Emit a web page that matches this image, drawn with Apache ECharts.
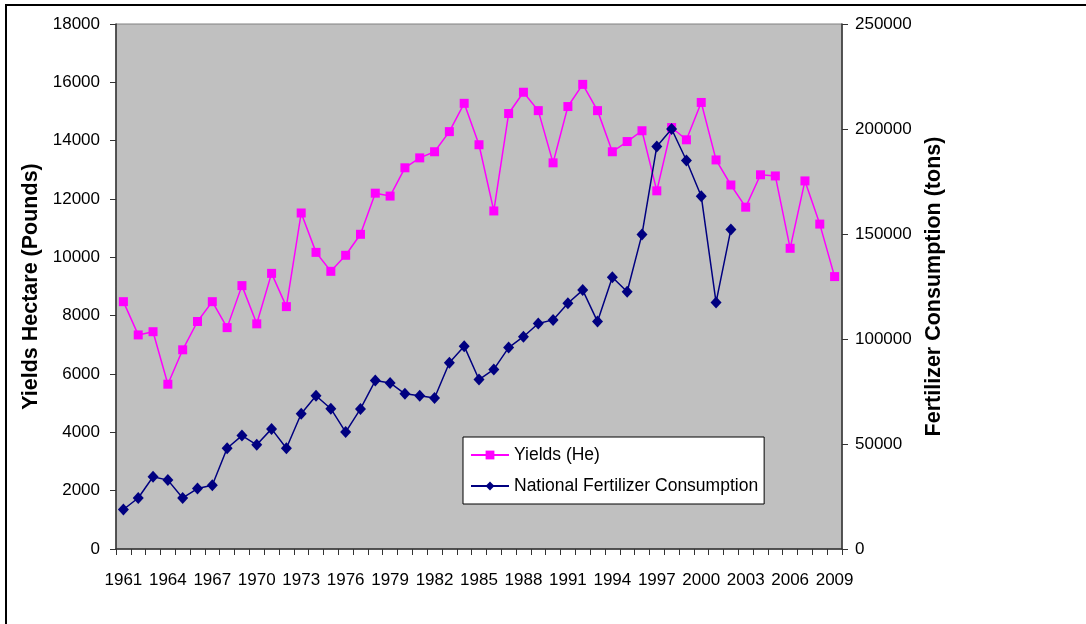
<!DOCTYPE html>
<html><head><meta charset="utf-8">
<script src="https://cdn.jsdelivr.net/npm/echarts@6/dist/echarts.min.js"></script>
<style>html,body{margin:0;padding:0;background:#fff;}#c{width:1086px;height:624px;}</style>
</head><body><div id="c"></div>
<script>
var years = ['1961','1962','1963','1964','1965','1966','1967','1968','1969','1970',
'1971','1972','1973','1974','1975','1976','1977','1978','1979','1980',
'1981','1982','1983','1984','1985','1986','1987','1988','1989','1990',
'1991','1992','1993','1994','1995','1996','1997','1998','1999','2000',
'2001','2002','2003','2004','2005','2006','2007','2008','2009'];
var yields = [8480,7340,7450,5650,6830,7800,8480,7590,9030,7720,
9450,8310,11520,10170,9520,10070,10790,12200,12100,13070,
13410,13620,14310,15280,13860,11590,14930,15660,15030,13240,
15170,15930,15030,13620,13970,14340,12280,14450,14030,15310,
13340,12480,11720,12830,12790,10310,12620,11140,9340];
var fertilizer = [18800,24300,34400,32800,24300,28800,30400,48000,54000,49600,
57200,48000,64400,73000,66800,55700,66700,80200,79100,73900,
73000,71900,88700,96600,80700,85500,95900,101100,107400,109100,
117000,123300,108300,129400,122500,149800,191700,200000,185000,168000,
117400,152200,null,null,null,null,null,null,null];
var seriesNames = ['Yields (He)','National Fertilizer Consumption'];
var leftAxisTitle = 'Yields Hectare (Pounds)';
var rightAxisTitle = 'Fertilizer Consumption (tons)';

var NF = '"Liberation Sans", Arial, sans-serif';
var tickSize = 17;
var legSize = 17.5;

var chart = echarts.init(document.getElementById('c'));
var axisLineStyle = {color:'#333333', width:1.5};
function plain(v){ return String(v); }
chart.setOption({
  animation:false,
  backgroundColor:'#ffffff',
  graphic:[{type:'rect', shape:{x:6,y:5,width:1200,height:700}, style:{fill:'none', stroke:'#000', lineWidth:2}, silent:true}],
  grid:{left:116, top:24, right:244, bottom:75, show:true, backgroundColor:'#C0C0C0', borderColor:'#808080', borderWidth:1},
  legend:{
    orient:'vertical', left:463, top:437,
    backgroundColor:'#ffffff', borderColor:'#000', borderWidth:1,
    padding:[9,6,9,7], itemGap:13, itemWidth:38, itemHeight:11,
    textStyle:{fontFamily:NF, fontSize:legSize, color:'#000'},
    data:seriesNames
  },
  xAxis:{
    type:'category', data:years, boundaryGap:true,
    axisLine:{lineStyle:axisLineStyle},
    axisTick:{show:true, interval:0, length:6, lineStyle:{color:'#333'}},
    axisLabel:{interval:2, margin:23, fontFamily:NF, fontSize:tickSize, color:'#000'},
    splitLine:{show:false}
  },
  yAxis:[{
    type:'value', min:0, max:18000, interval:2000,
    name:leftAxisTitle, nameLocation:'middle', nameGap:60,
    nameTextStyle:{fontFamily:NF, fontWeight:'bold', fontSize:21.5, color:'#000'},
    axisLine:{show:true, lineStyle:axisLineStyle},
    axisTick:{show:true, length:6, lineStyle:{color:'#333'}},
    axisLabel:{margin:16, fontFamily:NF, fontSize:tickSize, color:'#000', formatter:plain},
    splitLine:{show:false}
  },{
    type:'value', min:0, max:250000, interval:50000, position:'right',
    name:rightAxisTitle, nameLocation:'middle', nameGap:75, nameRotate:90,
    nameTextStyle:{fontFamily:NF, fontWeight:'bold', fontSize:21.5, color:'#000'},
    axisLine:{show:true, lineStyle:axisLineStyle},
    axisTick:{show:true, length:6, lineStyle:{color:'#333'}},
    axisLabel:{margin:13, fontFamily:NF, fontSize:tickSize, color:'#000', formatter:plain},
    splitLine:{show:false}
  }],
  series:[{
    name:seriesNames[0], type:'line', yAxisIndex:0, data:yields,
    symbol:'rect', symbolSize:9, showAllSymbol:true,
    lineStyle:{color:'#FF00FF', width:1.5},
    itemStyle:{color:'#FF00FF'}
  },{
    name:seriesNames[1], type:'line', yAxisIndex:1, data:fertilizer,
    symbol:'diamond', symbolSize:[11,12], showAllSymbol:true, connectNulls:false,
    lineStyle:{color:'#000080', width:1.5},
    itemStyle:{color:'#000080'}
  }]
});
</script></body></html>
